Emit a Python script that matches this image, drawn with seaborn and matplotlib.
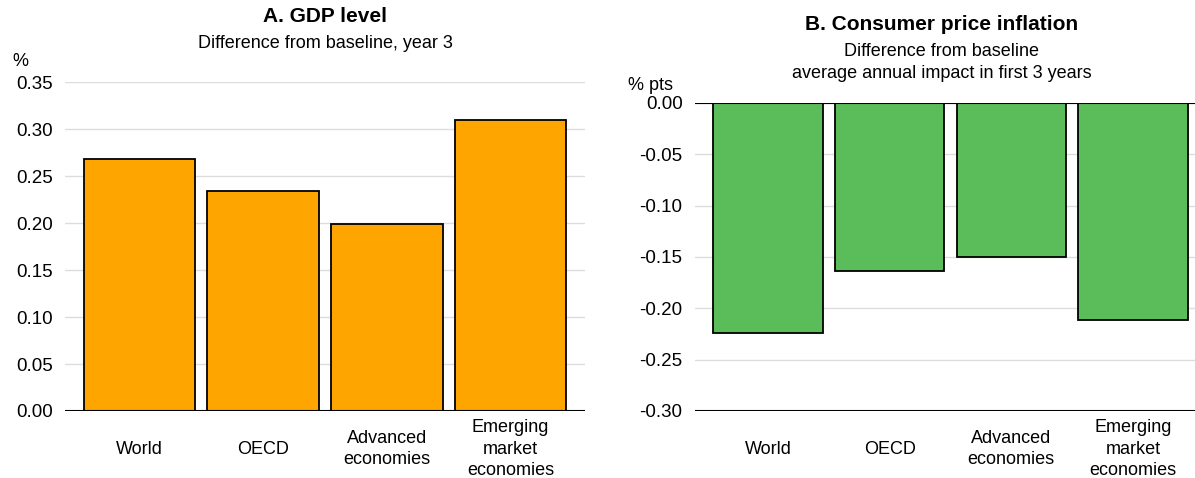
import matplotlib
matplotlib.use("Agg")
import matplotlib.pyplot as plt
import seaborn as sns
import pandas as pd

categories = ["World", "OECD", "Advanced\neconomies", "Emerging\nmarket\neconomies"]
gdp_level = [0.268, 0.234, 0.199, 0.31]
cpi_inflation = [-0.224, -0.164, -0.15, -0.211]

gdp_ticks = [0.0, 0.05, 0.10, 0.15, 0.20, 0.25, 0.30, 0.35]
cpi_ticks = [0.0, -0.05, -0.10, -0.15, -0.20, -0.25, -0.30]

sns.set_style("white")
plt.rcParams["font.family"] = ["Liberation Sans", "DejaVu Sans"]
plt.rcParams["text.color"] = "black"
plt.rcParams["xtick.labelcolor"] = "black"
plt.rcParams["ytick.labelcolor"] = "black"

fig = plt.figure(figsize=(11.95, 4.78), dpi=100)
ax_a = fig.add_axes([0.0544, 0.1402, 0.4351, 0.688])
ax_b = fig.add_axes([0.5816, 0.1402, 0.4184, 0.6444])

df_a = pd.DataFrame({"cat": categories, "val": gdp_level})
df_b = pd.DataFrame({"cat": categories, "val": cpi_inflation})

sns.barplot(data=df_a, x="cat", y="val", color="#FFA500", saturation=1,
            edgecolor="black", linewidth=1.3, width=0.9, ax=ax_a, zorder=3)
sns.barplot(data=df_b, x="cat", y="val", color="#5BBD5A", saturation=1,
            edgecolor="black", linewidth=1.3, width=0.9, ax=ax_b, zorder=3)

for ax, ticks, lim in [(ax_a, gdp_ticks, (0, 0.35)), (ax_b, cpi_ticks, (-0.30, 0))]:
    ax.set_ylim(*lim)
    ax.set_yticks(ticks)
    ax.set_yticklabels([f"{t:.2f}" for t in ticks])
    ax.set_xlabel("")
    ax.set_ylabel("")
    ax.grid(axis="y", color="#DDDDDD", linewidth=1, zorder=0)
    ax.grid(axis="x", visible=False)
    for s in ["top", "right", "left", "bottom"]:
        ax.spines[s].set_visible(False)
    ax.axhline(0, color="black", linewidth=1.5, zorder=4)
    ax.tick_params(axis="y", length=0, pad=9, labelsize=13.5)
    ax.tick_params(axis="x", length=0, pad=27.5, labelsize=13)
    for lab in ax.get_xticklabels():
        lab.set_verticalalignment("center")
        lab.set_linespacing(1.35)

ax_a.set_xlim(-0.6, 3.6)
ax_b.set_xlim(-0.6, 3.51)
ax_b.axhline(-0.30, color="black", linewidth=1.5, zorder=4)

# titles and units
fig.text(325 / 1195, 1 - 17 / 478, "A. GDP level", ha="center", va="center",
         fontsize=15, fontweight="bold")
fig.text(325 / 1195, 1 - 43 / 478, "Difference from baseline, year 3", ha="center",
         va="center", fontsize=13)
fig.text(20 / 1195, 1 - 62 / 478, "%", ha="center", va="center", fontsize=13)

fig.text(942 / 1195, 1 - 25 / 478, "B. Consumer price inflation", ha="center",
         va="center", fontsize=15, fontweight="bold")
fig.text(942 / 1195, 1 - 52 / 478, "Difference from baseline", ha="center",
         va="center", fontsize=13)
fig.text(942 / 1195, 1 - 73 / 478, "average annual impact in first 3 years",
         ha="center", va="center", fontsize=13)
fig.text(650 / 1195, 1 - 86 / 478, "% pts", ha="center", va="center", fontsize=13)

fig.savefig("out.png", dpi=100)
